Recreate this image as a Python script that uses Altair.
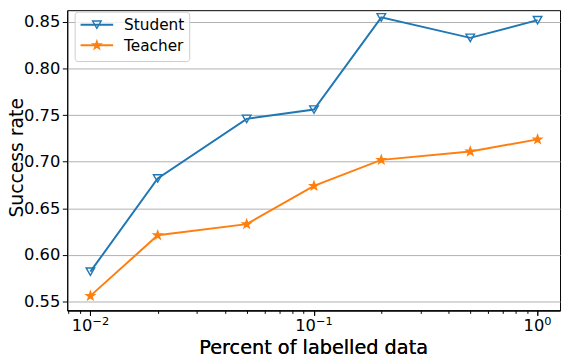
import math
import altair as alt
import pandas as pd

# ---- data ----
pct = [0.01, 0.02, 0.05, 0.1, 0.2, 0.5, 1.0]
student = [0.582, 0.682, 0.746, 0.756, 0.855, 0.833, 0.852]
teacher = [0.556, 0.621, 0.633, 0.674, 0.702, 0.711, 0.724]
series = ["Student", "Teacher"]
colors = ["#1f77b4", "#ff7f0e"]
y_ticks = [0.55, 0.60, 0.65, 0.70, 0.75, 0.80, 0.85]
x_major = [0.01, 0.1, 1.0]
x_major_exp = ["\u22122", "\u22121", "0"]
x_minor = [0.008, 0.009, 0.02, 0.03, 0.04, 0.05, 0.06, 0.07, 0.08, 0.09,
           0.2, 0.3, 0.4, 0.5, 0.6, 0.7, 0.8, 0.9]

df = pd.DataFrame({
    "pct": pct * 2,
    "rate": student + teacher,
    "series": [series[0]] * len(pct) + [series[1]] * len(pct),
})

FONT = "DejaVu Sans"
LABEL_FS = 16.5
SUP_FS = 11.5
TITLE_FS = 19.5

# star marker path (unit size)
star_pts = []
for k in range(10):
    a = -math.pi / 2 + k * math.pi / 5
    r = 1.0 if k % 2 == 0 else 0.40
    star_pts.append(f"{r*math.cos(a):.3f},{r*math.sin(a):.3f}")
STAR = "M" + "L".join(star_pts) + "Z"
shapes = ["triangle-down", STAR]

xscale = alt.Scale(type="log", domain=[0.00788, 1.26], nice=False)
yscale = alt.Scale(domain=[0.5404, 0.8627], nice=False, zero=False)

major_axis = alt.Axis(
    orient="bottom", values=x_major, labels=False,
    grid=False, tickSize=5, tickColor="black", domainColor="black",
    titleFontSize=TITLE_FS, titleFont=FONT, titleFontWeight="normal", titleColor="black",
    titleBaseline="alphabetic", titleX=249, titleY=43.5,
)
minor_axis = alt.Axis(
    orient="bottom", values=x_minor, labels=False, grid=False, domain=False,
    tickSize=3, tickColor="black", title=None,
)
y_axis = alt.Axis(
    values=y_ticks, format=".2f", grid=True, gridColor="#b0b0b0", gridWidth=1,
    tickSize=5, tickColor="black", domainColor="black",
    labelFontSize=LABEL_FS, labelColor="black", labelFont=FONT, labelPadding=2.5,
    titleFontSize=19, titleFont=FONT, titleFontWeight="normal", titleColor="black",
    titleBaseline="alphabetic", titleX=-45, titleY=149, titleAngle=270,
)

X = alt.X("pct:Q", scale=xscale, axis=major_axis, title="Percent of labelled data")
Y = alt.Y("rate:Q", scale=yscale, axis=y_axis, title="Success rate")
stroke = alt.Stroke("series:N", scale=alt.Scale(domain=series, range=colors), legend=None)
fill = alt.Fill("series:N", scale=alt.Scale(domain=series, range=["transparent", colors[1]]), legend=None)
shape = alt.Shape("series:N", scale=alt.Scale(domain=series, range=shapes), legend=None)

base = alt.Chart(df)
lines = base.mark_line(strokeWidth=2).encode(x=X, y=Y, stroke=stroke)
points = base.mark_point(filled=False, strokeWidth=1.4, opacity=1, size=75).encode(
    x=X, y=Y, stroke=stroke, fill=fill, shape=shape
)
minor = base.mark_point(opacity=0).encode(
    x=alt.X("pct:Q", scale=xscale, axis=minor_axis), y=alt.value(0)
)

# ---- x tick labels "10^k" with real superscripts, placed through the x scale ----
tick_layers = []
base_w = 2 * 0.636 * LABEL_FS
for v, e in zip(x_major, x_major_exp):
    sup_w = sum(0.838 if ch == "\u2212" else 0.636 for ch in e) * SUP_FS
    total = base_w + sup_w
    split = base_w - total / 2
    tdf = pd.DataFrame({"v": [v], "b": ["10"], "e": [e]})
    tc = alt.Chart(tdf)
    tick_layers.append(tc.mark_text(
        align="right", baseline="alphabetic", font=FONT, fontSize=LABEL_FS,
        color="black", dx=split).encode(
        x=alt.X("v:Q", scale=xscale, axis=None), y=alt.value(325), text="b:N"))
    tick_layers.append(tc.mark_text(
        align="left", baseline="alphabetic", font=FONT, fontSize=SUP_FS,
        color="black", dx=split).encode(
        x=alt.X("v:Q", scale=xscale, axis=None), y=alt.value(319), text="e:N"))

# ---- legend (drawn from the series list) ----
box_df = pd.DataFrame({"k": [0]})
legend_layers = [
    alt.Chart(box_df).mark_rect(
        cornerRadius=3, fill="white", fillOpacity=0.8, stroke="#cccccc", strokeWidth=1
    ).encode(x=alt.value(8), x2=alt.value(124), y=alt.value(2), y2=alt.value(52))
]
leg_df = pd.DataFrame({"series": series, "color": colors, "shape": shapes,
                       "fill": ["transparent", colors[1]]})
for i, s in enumerate(series):
    yy = 14.7 + i * 20.8
    sub = alt.Chart(leg_df).transform_filter(alt.datum.series == s)
    legend_layers.append(sub.mark_rule(strokeWidth=2, color=colors[i]).encode(
        x=alt.value(13.5), x2=alt.value(46.5), y=alt.value(yy)))
    legend_layers.append(sub.mark_point(
        filled=False, strokeWidth=1.4, size=75, opacity=1, shape=shapes[i],
        stroke=colors[i], fill=leg_df["fill"][i]).encode(
        x=alt.value(30), y=alt.value(yy)))
    legend_layers.append(sub.mark_text(
        align="left", baseline="middle", font=FONT, fontSize=15.5, color="black").encode(
        x=alt.value(57.5), y=alt.value(yy + 0.5), text="series:N"))

chart = alt.layer(minor, lines, points, *tick_layers, *legend_layers).resolve_axis(
    x="independent"
).properties(
    width=499, height=304,
    autosize=alt.AutoSizeParams(type="none"),
    padding={"left": 60, "top": 0, "right": 2, "bottom": 46},
).configure_view(stroke="black", strokeWidth=1)

chart.save("out.html", embed_options={"renderer": "svg", "actions": False})
